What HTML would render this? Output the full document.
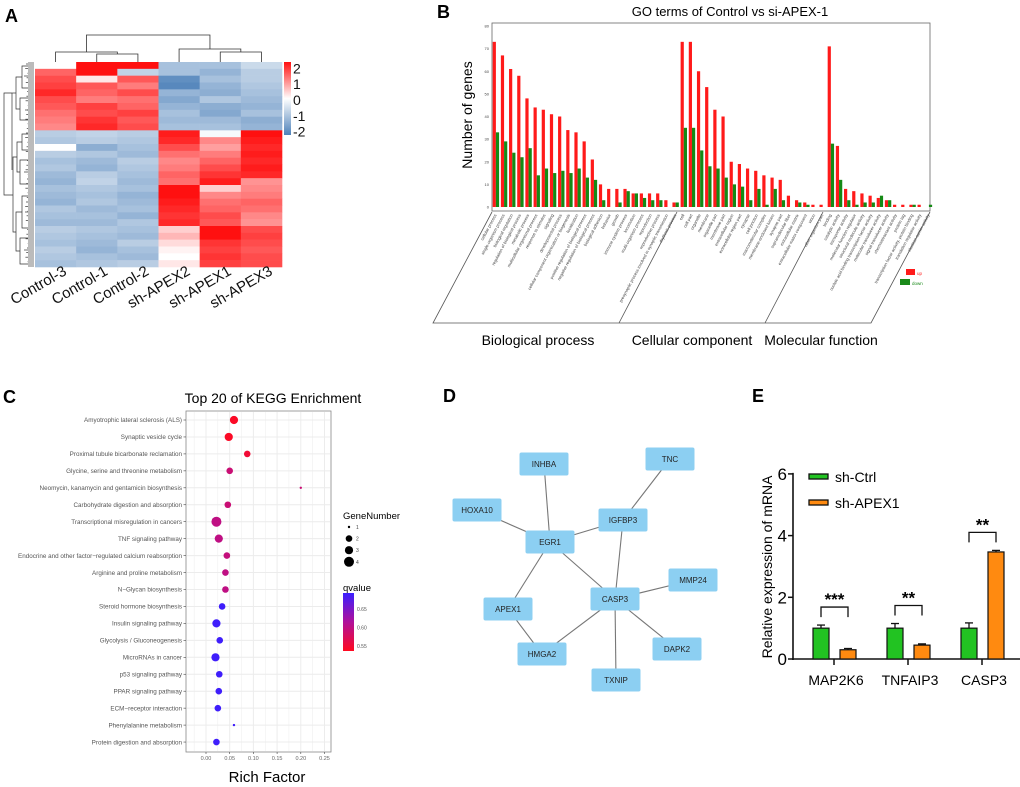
<!DOCTYPE html>
<html><head><meta charset="utf-8"><style>
body{margin:0;background:#fff}
svg{display:block;font-family:"Liberation Sans",Arial,sans-serif}
</style></head><body>
<svg id="fig" width="1020" height="787" viewBox="0 0 1020 787">
<g id="pA">
<text x="5" y="22" font-size="18" font-weight="bold">A</text>
<g id="hm"></g>
<g id="dendTop" stroke="#333" stroke-width="0.8" fill="none"></g>
<g id="dendLeft" stroke="#333" stroke-width="0.7" fill="none"></g>
<defs><linearGradient id="cbA" x1="0" y1="0" x2="0" y2="1"><stop offset="0" stop-color="#ff1010"/><stop offset="0.5" stop-color="#ffffff"/><stop offset="1" stop-color="#4f82ba"/></linearGradient>
<linearGradient id="cbC" x1="0" y1="0" x2="0" y2="1"><stop offset="0" stop-color="#3a1fff"/><stop offset="0.5" stop-color="#b0109a"/><stop offset="1" stop-color="#ff0a20"/></linearGradient></defs>
<rect x="284" y="62" width="7" height="73" fill="url(#cbA)"/>
<g id="cbALabels" font-size="14" fill="#111"></g>
<g id="colLabels" font-size="15" fill="#111"></g>
</g>

<g id="pB">
<text x="437" y="18" font-size="18" font-weight="bold">B</text>
<text x="730" y="16" font-size="13" text-anchor="middle">GO terms of Control vs si-APEX-1</text>
<text transform="translate(472,115) rotate(-90)" font-size="14" text-anchor="middle">Number of genes</text>
<rect x="492" y="23" width="438" height="188" fill="none" stroke="#666" stroke-width="0.8"/>
<g id="goBars"></g>
<g id="goTicks" font-size="4" fill="#444"></g>
<g id="goLabels" font-size="4.2" fill="#444"></g>
<g stroke="#555" stroke-width="0.8" fill="none">
<path d="M492,212 L433,323 L871,323 L930,212"/>
<path d="M677,212 L619,323"/><path d="M823,212 L765,323"/>
</g>
<text x="538" y="345" font-size="14" text-anchor="middle">Biological process</text>
<text x="692" y="345" font-size="14" text-anchor="middle">Cellular component</text>
<text x="821" y="345" font-size="14" text-anchor="middle">Molecular function</text>
<rect x="906" y="269" width="9" height="6" fill="#ff1a1a"/>
<text x="917" y="275" font-size="4.5" fill="#f22">up</text>
<rect x="900" y="279" width="10" height="6" fill="#1a8a1a"/>
<text x="912" y="285" font-size="4.5" fill="#1a8a1a">down</text>
</g>

<g id="pC">
<text x="3" y="403" font-size="18" font-weight="bold">C</text>
<text x="273" y="403" font-size="14" text-anchor="middle">Top 20 of KEGG Enrichment</text>
<rect x="186" y="411" width="145" height="341" fill="#fff" stroke="#888" stroke-width="0.8"/>
<g id="kGrid"></g>
<g id="kPts"></g>
<g id="kLabels" font-size="6.3" fill="#555" text-anchor="end"></g>
<g id="kXt" font-size="5.5" fill="#666" text-anchor="middle"></g>
<text x="267" y="782" font-size="15" text-anchor="middle">Rich Factor</text>
<text x="343" y="519" font-size="9.5">GeneNumber</text>
<g id="kSize"></g>
<text x="343" y="591" font-size="9.5">qvalue</text>
<rect x="343" y="593" width="11" height="58" fill="url(#cbC)"/>
<g id="kQ" font-size="5" fill="#555"></g>
</g>

<g id="pD">
<text x="443" y="402" font-size="18" font-weight="bold">D</text>
<g id="edges" stroke="#777" stroke-width="1.1"></g>
<g id="nodes"></g>
</g>

<g id="pE">
<text x="752" y="402" font-size="18" font-weight="bold">E</text>
<text transform="translate(772,567) rotate(-90)" font-size="14" text-anchor="middle">Relative expression of mRNA</text>
<g id="eAxis"></g>
<g id="eBars"></g>
<rect x="809" y="474" width="19" height="5" fill="#22c322" stroke="#111" stroke-width="1.3"/>
<text x="835" y="482" font-size="14">sh-Ctrl</text>
<rect x="809" y="500" width="19" height="5" fill="#ff8a10" stroke="#111" stroke-width="1.3"/>
<text x="835" y="508" font-size="14">sh-APEX1</text>
</g>
</svg>
<script>
// ---------- Panel A data ----------
const hmCols = ["Control-3","Control-1","Control-2","sh-APEX2","sh-APEX1","sh-APEX3"];
const hmValues = [
[0.0,2.0,2.0,-1,-1,-0.6],[1.3,2.0,-0.7,-1,-1.2,-0.8],[1.5,0.2,1.4,-1.8,-1,-0.8],[1.6,1.4,1.1,-1.9,-1.2,-0.9],
[1.8,1.3,1.5,-1.2,-1.3,-1],[1.5,1.1,1.2,-1.4,-0.9,-1.1],[1.4,1.6,1.3,-1.2,-1.3,-1.2],[1.2,1.5,1.6,-1.0,-1.4,-1.0],
[1.1,1.7,1.4,-1.1,-1.1,-1.3],[1.0,1.8,1.5,-1.0,-1.0,-1.2],
[-0.8,-0.7,-0.8,1.9,-0.1,2.0],[-0.9,-0.8,-0.9,1.8,1.0,1.9],[0.0,-1.3,-1.0,1.5,0.8,1.8],[-0.8,-0.9,-1.1,1.2,1.1,1.9],
[-1.0,-1.1,-0.8,1.0,1.3,1.8],[-0.9,-1.2,-0.9,1.1,1.5,1.9],[-1.1,-0.8,-1.0,1.3,1.7,1.8],[-1.2,-0.7,-1.1,1.2,1.9,0.9],
[-1.0,-0.9,-1.0,2.0,0.4,1.0],[-1.1,-1.0,-1.2,2.0,1.0,1.1],[-1.2,-0.9,-1.1,1.9,1.2,1.3],[-0.9,-1.1,-1.0,1.8,1.3,1.2],
[-1.0,-1.0,-1.2,1.7,1.5,1.0],[-1.1,-1.1,-0.9,1.8,1.4,0.9],[-0.8,-0.9,-1.0,0.4,2.0,1.5],[-0.9,-1.0,-1.1,0.6,2.0,1.6],
[-1.0,-1.1,-0.8,0.3,1.7,1.5],[-0.8,-1.2,-1.0,0.1,1.6,1.4],[-0.9,-1.0,-1.1,0.0,1.7,1.5],[-1.0,-0.9,-0.8,0.2,1.6,1.5]];
const hmTicks = [2,1,0,-1,-2];
// ---------- Panel B data ----------
const goTerms = ["cellular process","single-organism process","biological regulation","regulation of biological process","metabolic process","multicellular organismal process","response to stimulus","signaling","developmental process","cellular component organization or biogenesis","localization","positive regulation of biological process","negative regulation of biological process","biological adhesion","behavior","growth","immune system process","locomotion","multi-organism process","reproduction","reproductive process","presynaptic process involved in synaptic transmission","rhythmic process",
"cell","cell part","organelle","membrane","organelle part","membrane part","extracellular region","extracellular region part","synapse","cell junction","macromolecular complex","membrane-enclosed lumen","synapse part","supramolecular fiber","extracellular matrix","extracellular matrix component","virion","other organism part",
"binding","catalytic activity","transporter activity","molecular function regulator","structural molecule activity","nucleic acid binding transcription factor activity","molecular transducer activity","signal transducer activity","chemoattractant activity","protein tag","transcription factor activity, protein binding","translation regulator activity","electron carrier activity"];
const goUp = [73,67,61,58,48,44,43,41,40,34,33,29,21,10,8,8,8,6,6,6,6,3,2, 73,73,60,53,43,40,20,19,17,16,14,13,12,5,3,2,1,1, 71,27,8,7,6,5,4,3,1,1,1,1,0];
const goDown = [33,29,24,22,26,14,17,15,16,15,17,13,12,3,0,2,7,6,4,3,3,0,2, 35,35,25,18,17,13,10,9,3,8,1,8,3,0,2,1,0,0, 28,12,3,1,2,2,5,3,0,0,1,0,1];
const goYTicks = [0,10,20,30,40,50,60,70,80];
// ---------- Panel C data ----------
const kPaths = ["Amyotrophic lateral sclerosis (ALS)","Synaptic vesicle cycle","Proximal tubule bicarbonate reclamation","Glycine, serine and threonine metabolism","Neomycin, kanamycin and gentamicin biosynthesis","Carbohydrate digestion and absorption","Transcriptional misregulation in cancers","TNF signaling pathway","Endocrine and other factor−regulated calcium reabsorption","Arginine and proline metabolism","N−Glycan biosynthesis","Steroid hormone biosynthesis","Insulin signaling pathway","Glycolysis / Gluconeogenesis","MicroRNAs in cancer","p53 signaling pathway","PPAR signaling pathway","ECM−receptor interaction","Phenylalanine metabolism","Protein digestion and absorption"];
const kRich = [0.059,0.048,0.087,0.050,0.200,0.046,0.022,0.027,0.044,0.041,0.041,0.034,0.022,0.029,0.020,0.028,0.027,0.025,0.059,0.022];
const kGenes = [3,3,2,2,1,2,4,3,2,2,2,2,3,2,3,2,2,2,1,2];
const kQval = [0.54,0.54,0.55,0.59,0.59,0.59,0.60,0.60,0.595,0.60,0.60,0.69,0.69,0.69,0.69,0.69,0.69,0.69,0.69,0.69];
const kXTicks = [0,0.05,0.10,0.15,0.20,0.25];
const kQTicks = [0.55,0.60,0.65];
const kSizeLegend = [1,2,3,4];
// ---------- Panel D data ----------
const netNodes = [["INHBA",544,464],["TNC",670,459],["HOXA10",477,510],["IGFBP3",623,520],["EGR1",550,542],["MMP24",693,580],["CASP3",615,599],["APEX1",508,609],["DAPK2",677,649],["HMGA2",542,654],["TXNIP",616,680]];
const netEdges = [["INHBA","EGR1"],["HOXA10","EGR1"],["EGR1","IGFBP3"],["TNC","IGFBP3"],["IGFBP3","CASP3"],["EGR1","CASP3"],["EGR1","APEX1"],["APEX1","HMGA2"],["HMGA2","CASP3"],["CASP3","MMP24"],["CASP3","DAPK2"],["CASP3","TXNIP"]];
// ---------- Panel E data ----------
const eGenes = ["MAP2K6","TNFAIP3","CASP3"];
const eCtrl = [1.0,1.0,1.0];
const eCtrlErr = [0.1,0.15,0.17];
const eApex = [0.3,0.45,3.47];
const eApexErr = [0.04,0.04,0.05];
const eSig = ["***","**","**"];
const eYTicks = [0,2,4,6];

const NS="http://www.w3.org/2000/svg";
function mk(tag,attrs,parent,txt){const e=document.createElementNS(NS,tag);for(const k in attrs)e.setAttribute(k,attrs[k]);if(txt!==undefined)e.textContent=txt;parent.appendChild(e);return e;}
function $(id){return document.getElementById(id);}

// ===== Panel A =====
function lerp(a,b,t){return Math.round(a+(b-a)*t);}
function hmColor(v){v=Math.max(-2,Math.min(2,v));
 if(v>=0){const t=v/2;return `rgb(255,${lerp(255,16,t)},${lerp(255,16,t)})`;}
 const t=-v/2;return `rgb(${lerp(255,79,t)},${lerp(255,130,t)},${lerp(255,186,t)})`;}
const hmX0=35,hmY0=62,hmW=247,hmH=205;
const cw=hmW/hmCols.length, rh=hmH/hmValues.length;
hmValues.forEach((row,r)=>row.forEach((v,c)=>{
 const el=mk('rect',{x:hmX0+c*cw,y:hmY0+r*rh,width:cw+0.3,height:rh+0.3,fill:hmColor(v)},$('hm'));
 
 
}));
mk('rect',{x:28,y:62,width:6,height:205,fill:'#bbb'},$('hm'));
hmTicks.forEach(t=>{const el=mk('text',{x:293,y:100-t*15.8+5},$('cbALabels'),String(t));
 });
const colCx=c=>hmX0+cw*(c+0.5);
hmCols.forEach((n,c)=>{const el=mk('text',{transform:`translate(${colCx(c)+12},274) rotate(-30)`,'text-anchor':'end'},$('colLabels'),n);
 });
(function(){const g=$('dendTop');const p=(d)=>mk('path',{d},g);
 const c=colCx;
 p(`M${c(1)},62V54H${c(2)}V62`);
 const m12=(c(1)+c(2))/2;
 p(`M${c(0)},62V52H${m12}V54`);
 p(`M${c(4)},62V52H${c(5)}V62`);
 const m45=(c(4)+c(5))/2;
 p(`M${c(3)},62V49H${m45}V52`);
 const mc=(c(0)+m12)/2, ms=(c(3)+m45)/2;
 p(`M${mc},52V35H${ms}V49`);
 const gl=$('dendLeft');const q=(d)=>mk('path',{d},gl);
 q('M28,66H22V88H28');q('M28,76H24');q('M28,98H20V120H28');q('M28,110H25');
 q('M22,77H16V109H20');q('M12,93V170');q('M16,93H12');
 q('M28,134H22V150H28');q('M28,160H20V184H28');q('M28,172H24');q('M22,142H17V172H20');
 q('M28,196H22V228H28');q('M28,212H25');q('M28,238H20V264H28');q('M28,250H24');q('M22,212H16V251H20');
 q('M17,157H13V232H16');q('M13,195H4V93H12');
 for(let y=64;y<266;y+=4.6){q(`M28,${y}H${25+((y*7)%3)}`);}
})();

// ===== Panel B =====
const gy=v=>207-v*2.2625, gx=i=>492.7+i*8.17;
goUp.forEach((v,i)=>{
 const r=mk('rect',{x:gx(i),y:gy(v),width:3.2,height:v*2.2625,fill:'#ff1a1a'},$('goBars'));
 
 const d=goDown[i];
 const g=mk('rect',{x:gx(i)+3.2,y:gy(d),width:3.2,height:d*2.2625,fill:'#158a15'},$('goBars'));
 
 const t=mk('text',{transform:`translate(${gx(i)+4},215) rotate(-62)`,'text-anchor':'end'},$('goLabels'),goTerms[i]);
 
});
goYTicks.forEach(t=>{const e=mk('text',{x:489,y:gy(t)+1.5,'text-anchor':'end'},$('goTicks'),String(t));
 });

// ===== Panel C =====
const kx=v=>206+v*474, ky=i=>420+i*16.95;
for(let k=-1;k<=11;k++){const v=k*0.025;const X=kx(v);if(X<187||X>330)continue;
 mk('line',{x1:X,y1:412,x2:X,y2:751,stroke:'#ececec','stroke-width':k%2===0?1:0.5},$('kGrid'));}
kPaths.forEach((n,i)=>{mk('line',{x1:187,y1:ky(i),x2:330,y2:ky(i),stroke:'#ececec','stroke-width':1},$('kGrid'));
 const t=mk('text',{x:182,y:ky(i)+2.2},$('kLabels'),n);
 
 mk('line',{x1:183.5,y1:ky(i),x2:186,y2:ky(i),stroke:'#444','stroke-width':0.6},$('kLabels'));});
const rad=g=>[0,1.2,3.3,4.1,5][g];
function qColor(q){const t=Math.max(0,Math.min(1,(q-0.536)/(0.693-0.536)));
 if(t<0.5){const s=t/0.5;return `rgb(${lerp(255,176,s)},${lerp(10,16,s)},${lerp(32,154,s)})`;}
 const s=(t-0.5)/0.5;return `rgb(${lerp(176,58,s)},${lerp(16,31,s)},${lerp(154,255,s)})`;}
kRich.forEach((v,i)=>{const c=mk('circle',{cx:kx(v),cy:ky(i),r:rad(kGenes[i]),fill:qColor(kQval[i])},$('kPts'));
 });
kXTicks.forEach(t=>{const e=mk('text',{x:kx(t),y:760},$('kXt'),t.toFixed(2));
 
 mk('line',{x1:kx(t),y1:752,x2:kx(t),y2:754,stroke:'#444','stroke-width':0.6},$('kXt'));});
kSizeLegend.forEach((g,i)=>{mk('circle',{cx:349,cy:527+i*11.6,r:rad(g),fill:'#000'},$('kSize'));
 const e=mk('text',{x:356,y:529+i*11.6,'font-size':5,fill:'#444'},$('kSize'),String(g));
 });
kQTicks.forEach(q=>{const y=646-(q-0.55)*370;
 const e=mk('text',{x:357,y:y+2},$('kQ'),q.toFixed(2));
 });

// ===== Panel D =====
const nodePos={};netNodes.forEach(n=>nodePos[n[0]]=[n[1],n[2]]);
netEdges.forEach(([a,b])=>{const l=mk('line',{x1:nodePos[a][0],y1:nodePos[a][1],x2:nodePos[b][0],y2:nodePos[b][1]},$('edges'));
 });
netNodes.forEach(([n,x,y])=>{const g=mk('g',{},$('nodes'));
 
 
 mk('rect',{x:x-24.5,y:y-11.5,width:49,height:23,rx:2,fill:'#8ccff2'},g);
 mk('text',{x:x,y:y+3,'font-size':8,'text-anchor':'middle',fill:'#222'},g,n);});

// ===== Panel E =====
const ey=v=>659-v*30.85;
const eCenters=[834,908,982];
const eA=$('eAxis');
mk('line',{x1:793,y1:ey(6)-1,x2:793,y2:660,stroke:'#111','stroke-width':1.6},eA);
mk('line',{x1:792,y1:659,x2:1020,y2:659,stroke:'#111','stroke-width':1.6},eA);
eYTicks.forEach(t=>{mk('line',{x1:788,y1:ey(t),x2:793,y2:ey(t),stroke:'#111','stroke-width':1.5},eA);
 const e=mk('text',{x:787,y:ey(t)+6,'font-size':17,'text-anchor':'end'},eA,String(t));
 });
eGenes.forEach((g,i)=>{const c=eCenters[i];
 mk('line',{x1:c,y1:659,x2:c,y2:665,stroke:'#111','stroke-width':1.5},eA);
 const t=mk('text',{x:c+2,y:685,'font-size':14,'text-anchor':'middle'},eA,g);
 
 const B=$('eBars');
 const x1=c-21, x2=c+6;
 mk('line',{x1:x1+8,y1:ey(eCtrl[i]),x2:x1+8,y2:ey(eCtrl[i]+eCtrlErr[i]),stroke:'#111','stroke-width':1.3},B);
 mk('line',{x1:x1+4,y1:ey(eCtrl[i]+eCtrlErr[i]),x2:x1+12,y2:ey(eCtrl[i]+eCtrlErr[i]),stroke:'#111','stroke-width':1.3},B);
 const r1=mk('rect',{x:x1,y:ey(eCtrl[i]),width:16,height:eCtrl[i]*30.85,fill:'#22c322',stroke:'#111','stroke-width':1.2},B);
 
 mk('line',{x1:x2+8,y1:ey(eApex[i]),x2:x2+8,y2:ey(eApex[i]+eApexErr[i]),stroke:'#111','stroke-width':1.3},B);
 mk('line',{x1:x2+4,y1:ey(eApex[i]+eApexErr[i]),x2:x2+12,y2:ey(eApex[i]+eApexErr[i]),stroke:'#111','stroke-width':1.3},B);
 const r2=mk('rect',{x:x2,y:ey(eApex[i]),width:16,height:eApex[i]*30.85,fill:'#ff8a10',stroke:'#111','stroke-width':1.2},B);
 
 const top=ey(Math.max(eCtrl[i]+eCtrlErr[i],eApex[i]+eApexErr[i]))-18;
 mk('path',{d:`M${x1+8},${top+10}V${top}H${x2+8}V${top+10}`,fill:'none',stroke:'#111','stroke-width':1.3},B);
 const s=mk('text',{x:(x1+x2)/2+8,y:top-2,'font-size':17,'font-weight':'bold','text-anchor':'middle'},B,eSig[i]);
 
});
</script>
</body></html>
